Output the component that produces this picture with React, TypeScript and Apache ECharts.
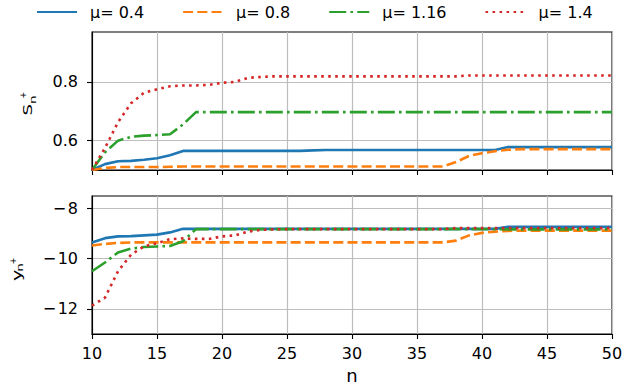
import React, { useEffect, useRef } from "react";
import * as echarts from "echarts";

const nValues = [10, 11, 12, 13, 14, 15, 16, 17, 18, 19, 20, 21, 22, 23, 24, 25, 26, 27, 28, 29, 30, 31, 32, 33, 34, 35, 36, 37, 38, 39, 40, 41, 42, 43, 44, 45, 46, 47, 48, 49, 50];

const seriesNames = ["μ= 0.4", "μ= 0.8", "μ= 1.16", "μ= 1.4"];

// Top panel: S_n^+
const sPlusMu04 = [0.500, 0.520, 0.530, 0.531, 0.535, 0.540, 0.550, 0.565, 0.565, 0.565, 0.565, 0.565, 0.565, 0.565, 0.565, 0.565, 0.565, 0.567, 0.568, 0.568, 0.568, 0.568, 0.568, 0.568, 0.568, 0.568, 0.568, 0.568, 0.568, 0.568, 0.568, 0.568, 0.578, 0.578, 0.578, 0.578, 0.578, 0.578, 0.578, 0.578, 0.578];
const sPlusMu08 = [0.500, 0.507, 0.510, 0.510, 0.510, 0.510, 0.511, 0.512, 0.512, 0.512, 0.512, 0.512, 0.512, 0.512, 0.512, 0.512, 0.512, 0.512, 0.512, 0.512, 0.512, 0.512, 0.512, 0.512, 0.512, 0.512, 0.512, 0.512, 0.527, 0.548, 0.557, 0.564, 0.569, 0.571, 0.571, 0.571, 0.571, 0.571, 0.571, 0.571, 0.571];
const sPlusMu116 = [0.500, 0.560, 0.600, 0.613, 0.617, 0.619, 0.622, 0.655, 0.697, 0.697, 0.697, 0.697, 0.697, 0.697, 0.697, 0.697, 0.697, 0.697, 0.697, 0.697, 0.697, 0.697, 0.697, 0.697, 0.697, 0.697, 0.697, 0.697, 0.697, 0.697, 0.697, 0.697, 0.697, 0.697, 0.697, 0.697, 0.697, 0.697, 0.697, 0.697, 0.697];
const sPlusMu14 = [0.500, 0.575, 0.663, 0.727, 0.763, 0.775, 0.785, 0.788, 0.788, 0.790, 0.797, 0.800, 0.814, 0.817, 0.819, 0.819, 0.819, 0.819, 0.819, 0.819, 0.819, 0.819, 0.819, 0.819, 0.819, 0.819, 0.819, 0.819, 0.819, 0.822, 0.822, 0.822, 0.822, 0.822, 0.822, 0.822, 0.822, 0.822, 0.822, 0.822, 0.822];

// Bottom panel: y_n^+
const yPlusMu04 = [-9.35, -9.18, -9.11, -9.10, -9.07, -9.04, -8.95, -8.81, -8.81, -8.81, -8.81, -8.81, -8.81, -8.81, -8.81, -8.81, -8.81, -8.81, -8.81, -8.81, -8.81, -8.81, -8.81, -8.81, -8.81, -8.81, -8.81, -8.81, -8.81, -8.81, -8.81, -8.81, -8.73, -8.73, -8.73, -8.73, -8.73, -8.73, -8.73, -8.73, -8.73];
const yPlusMu08 = [-9.47, -9.41, -9.37, -9.35, -9.35, -9.35, -9.35, -9.35, -9.35, -9.35, -9.35, -9.35, -9.35, -9.35, -9.35, -9.35, -9.35, -9.35, -9.35, -9.35, -9.35, -9.35, -9.35, -9.35, -9.35, -9.35, -9.35, -9.35, -9.28, -9.07, -8.97, -8.92, -8.89, -8.88, -8.88, -8.88, -8.88, -8.88, -8.88, -8.88, -8.88];
const yPlusMu116 = [-10.50, -10.15, -9.75, -9.60, -9.53, -9.51, -9.49, -9.30, -8.82, -8.82, -8.82, -8.82, -8.82, -8.82, -8.82, -8.82, -8.82, -8.82, -8.82, -8.82, -8.82, -8.82, -8.82, -8.82, -8.82, -8.82, -8.82, -8.82, -8.82, -8.82, -8.82, -8.82, -8.83, -8.83, -8.83, -8.83, -8.83, -8.83, -8.83, -8.83, -8.83];
const yPlusMu14 = [-11.87, -11.55, -10.50, -9.84, -9.51, -9.38, -9.22, -9.19, -9.21, -9.21, -9.11, -9.07, -8.92, -8.85, -8.83, -8.82, -8.82, -8.82, -8.82, -8.82, -8.82, -8.82, -8.82, -8.82, -8.82, -8.82, -8.82, -8.82, -8.78, -8.78, -8.78, -8.78, -8.78, -8.78, -8.78, -8.78, -8.78, -8.78, -8.78, -8.78, -8.78];

const xTicks = [10, 15, 20, 25, 30, 35, 40, 45, 50];
const topYTicks = [0.6, 0.8];
const bottomYTicks = [-12, -10, -8];

const FONT = "'DejaVu Sans', sans-serif";
const colors = ["#1f77b4", "#ff7f0e", "#2ca02c", "#d62728"];
const LW = 2.6;
const dashes: any[] = [
  "solid",
  [10, 4.2],
  [17, 4.2, 2.6, 4.2],
  [2.6, 4.4],
];

export default function App() {
  const ref = useRef<HTMLDivElement>(null);
  useEffect(() => {
    if (!ref.current) return;
    const chart = echarts.init(ref.current, null, { renderer: "svg" });
    const topData = [sPlusMu04, sPlusMu08, sPlusMu116, sPlusMu14];
    const botData = [yPlusMu04, yPlusMu08, yPlusMu116, yPlusMu14];
    const mk = (arr: number[]) => nValues.map((n, i) => [n, arr[i]]);
    const series: any[] = [];
    [0, 1].forEach((panel) => {
      const src = panel === 0 ? topData : botData;
      src.forEach((arr, k) => {
        series.push({
          type: "line",
          name: seriesNames[k],
          xAxisIndex: panel,
          yAxisIndex: panel,
          data: mk(arr),
          symbol: "none",
          showSymbol: false,
          lineStyle: { color: colors[k], width: LW, type: dashes[k], cap: "butt" },
          itemStyle: { color: colors[k] },
          z: 3 + k,
        });
      });
    });
    const xAxisBase = (idx: number) => ({
      type: "value",
      gridIndex: idx,
      min: 10,
      max: 50,
      interval: 5,
      axisLine: { show: true, onZero: false, lineStyle: { color: "#000", width: 1.1 } },
      axisTick: { show: true, length: 5, lineStyle: { color: "#000", width: 1.1 } },
      axisLabel: {
        show: idx === 1,
        color: "#000",
        fontSize: 16,
        fontFamily: FONT,
        margin: 11,
        customValues: xTicks,
      },
      splitLine: { show: true, lineStyle: { color: "#bdbdbd", width: 1.2 } },
      name: idx === 1 ? "n" : "",
      nameLocation: "middle",
      nameGap: 32,
      nameTextStyle: { color: "#000", fontSize: 18, fontFamily: FONT },
    });
    const option: any = {
      animation: false,
      textStyle: { fontFamily: FONT },
      legend: {
        left: 36,
        top: 4,
        padding: 0,
        itemWidth: 40,
        itemHeight: 14,
        itemGap: 38,
        data: seriesNames,
        itemStyle: { opacity: 0 },
        textStyle: { color: "#000", fontSize: 16, fontFamily: FONT, padding: [0, 0, 0, 8] },
      },
      grid: [
        { left: 92, top: 32, width: 520, height: 138, show: true, borderColor: "#000", borderWidth: 1.1, backgroundColor: "transparent" },
        { left: 92, top: 196, width: 520, height: 138, show: true, borderColor: "#000", borderWidth: 1.1, backgroundColor: "transparent" },
      ],
      xAxis: [xAxisBase(0), xAxisBase(1)],
      yAxis: [
        {
          type: "value",
          gridIndex: 0,
          min: 0.5,
          max: 0.97,
          axisLine: { show: true, onZero: false, lineStyle: { color: "#000", width: 1.1 } },
          axisTick: { show: true, length: 5, customValues: topYTicks, lineStyle: { color: "#000", width: 1.1 } },
          axisLabel: {
            color: "#000",
            fontSize: 16,
            fontFamily: FONT,
            margin: 14,
            customValues: topYTicks,
            formatter: (v: number) => v.toFixed(1),
          },
          splitLine: { show: true, lineStyle: { color: "#bdbdbd", width: 1.2 } },
        },
        {
          type: "value",
          gridIndex: 1,
          min: -13,
          max: -7.5,
          axisLine: { show: true, onZero: false, lineStyle: { color: "#000", width: 1.1 } },
          axisTick: { show: true, length: 5, customValues: bottomYTicks, lineStyle: { color: "#000", width: 1.1 } },
          axisLabel: {
            color: "#000",
            fontSize: 16,
            fontFamily: FONT,
            margin: 14,
            customValues: bottomYTicks,
            formatter: (v: number) => (v < 0 ? "\u2212\u200a" + Math.abs(v) : String(v)),
          },
          splitLine: { show: true, lineStyle: { color: "#bdbdbd", width: 1.2 } },
        },
      ],
      graphic: [
        {
          type: "group",
          x: 27.7,
          y: 115.5,
          rotation: Math.PI / 2,
          children: [
            { type: "text", x: 0, y: 0, scaleX: 1.4, style: { text: "S", fontSize: 13, fontFamily: FONT, fill: "#000", align: "left", verticalAlign: "middle" } },
            { type: "text", x: 20.3, y: -3.8, style: { text: "+", fontSize: 8, fontFamily: FONT, fill: "#000", align: "center", verticalAlign: "middle" } },
            { type: "text", x: 15.8, y: 5.6, scaleX: 1.5, style: { text: "n", fontSize: 9, fontFamily: FONT, fill: "#000", align: "center", verticalAlign: "middle" } },
          ],
        },
        {
          type: "group",
          x: 17.2,
          y: 281,
          rotation: Math.PI / 2,
          children: [
            { type: "text", x: 0, y: 0, scaleX: 1.6, style: { text: "y", fontSize: 12, fontFamily: FONT, fill: "#000", align: "left", verticalAlign: "middle" } },
            { type: "text", x: 20.2, y: -3.3, style: { text: "+", fontSize: 8, fontFamily: FONT, fill: "#000", align: "center", verticalAlign: "middle" } },
            { type: "text", x: 13.5, y: 2.5, scaleX: 1.5, style: { text: "n", fontSize: 9, fontFamily: FONT, fill: "#000", align: "center", verticalAlign: "middle" } },
          ],
        },
      ],
      series,
    };
    chart.setOption(option);
    return () => chart.dispose();
  }, []);
  return <div ref={ref} style={{ width: 635, height: 392, position: "absolute", left: 0, top: 0 }} />;
}
